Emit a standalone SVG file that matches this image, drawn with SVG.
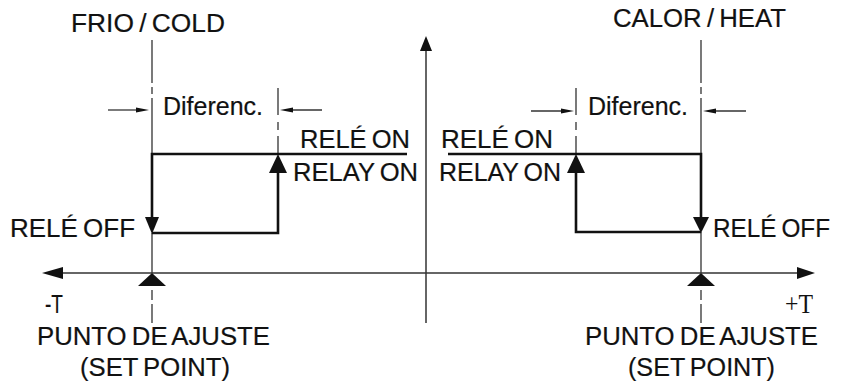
<svg xmlns="http://www.w3.org/2000/svg" width="843" height="382" viewBox="0 0 843 382">
<style>
.t{font-family:"Liberation Sans",Arial,sans-serif;font-size:26px;word-spacing:-2px;fill:#111;stroke:#111;stroke-width:0.2}
.s{font-family:"Liberation Serif","Times New Roman",serif;font-size:27px;fill:#111}
.ax{stroke:#333;stroke-width:1.5;fill:none}
.g{stroke:#333;stroke-width:1.3;fill:none}
.r{stroke:#111;stroke-width:2.6;fill:none}
.h{fill:#111;stroke:none}
</style>
<rect width="843" height="382" fill="#fff"/>
<g id="connectors">
  <line class="ax" x1="426" y1="42" x2="426" y2="323"/>
  <polygon class="h" points="426,36 420,51 432,51"/>
  <line class="ax" x1="50" y1="273" x2="806" y2="273"/>
  <polygon class="h" points="42,273 63,267 63,279"/>
  <polygon class="h" points="815,273 797,267 797,279"/>
  <path class="g" d="M152,40V83M152,87V94M152,98V154M152,233V273M152,290V300M152,304V323"/>
  <path class="g" d="M278,88V115M278,122V130M278,136V154"/>
  <path class="g" d="M701,40V83M701,87V94M701,98V154M701,232V273M701,290V300M701,304V323"/>
  <path class="g" d="M576,88V115M576,122V130M576,136V154"/>
  <line class="g" x1="108" y1="110" x2="140" y2="110"/>
  <polygon class="h" points="149,110 136,107.5 136,112.5"/>
  <line class="g" x1="322" y1="110" x2="288" y2="110"/>
  <polygon class="h" points="280,110 293,107.5 293,112.5"/>
  <line class="g" x1="531" y1="111" x2="565" y2="111"/>
  <polygon class="h" points="574,111 561,108.5 561,113.5"/>
  <line class="g" x1="746" y1="111" x2="711" y2="111"/>
  <polygon class="h" points="703,111 716,108.5 716,113.5"/>
  <path class="r" d="M407,154H152V220M152,233H278V170"/>
  <polygon class="h" points="152,234 145,217 159,217"/>
  <polygon class="h" points="278,154 269,173 287,173"/>
  <path class="r" d="M448,154H701V220M701,232H576V170"/>
  <polygon class="h" points="701,233 693,217 709,217"/>
  <polygon class="h" points="576,154 567,173 585,173"/>
  <polygon class="h" points="152,273 138,286 166,286"/>
  <polygon class="h" points="701,273 687,286 715,286"/>
</g>
<g id="cold-label"><text class="t" x="71" y="32" textLength="154" lengthAdjust="spacingAndGlyphs">FRIO / COLD</text></g>
<g id="heat-label"><text class="t" x="613" y="27" textLength="173" lengthAdjust="spacingAndGlyphs">CALOR / HEAT</text></g>
<g id="diff-cold"><text class="t" x="163" y="115" textLength="100" lengthAdjust="spacingAndGlyphs">Diferenc.</text></g>
<g id="diff-heat"><text class="t" x="588" y="115" textLength="100" lengthAdjust="spacingAndGlyphs">Diferenc.</text></g>
<g id="on-cold">
  <text class="t" x="300" y="148" textLength="110" lengthAdjust="spacingAndGlyphs">RELÉ ON</text>
  <text class="t" x="293" y="181" textLength="125" lengthAdjust="spacingAndGlyphs">RELAY ON</text>
</g>
<g id="on-heat">
  <text class="t" x="441" y="148" textLength="112" lengthAdjust="spacingAndGlyphs">RELÉ ON</text>
  <text class="t" x="439" y="181" textLength="122" lengthAdjust="spacingAndGlyphs">RELAY ON</text>
</g>
<g id="off-cold"><text class="t" x="10" y="237" textLength="125" lengthAdjust="spacingAndGlyphs">RELÉ OFF</text></g>
<g id="off-heat"><text class="t" x="713" y="237" textLength="117" lengthAdjust="spacingAndGlyphs">RELÉ OFF</text></g>
<g id="minus-t"><text class="t" x="45" y="313" textLength="18" lengthAdjust="spacingAndGlyphs">-T</text></g>
<g id="plus-t"><text class="s" x="785" y="313" textLength="28" lengthAdjust="spacingAndGlyphs">+T</text></g>
<g id="setpoint-cold">
  <text class="t" x="37" y="345" textLength="233" lengthAdjust="spacingAndGlyphs">PUNTO DE AJUSTE</text>
  <text class="t" x="80" y="376" textLength="150" lengthAdjust="spacingAndGlyphs">(SET POINT)</text>
</g>
<g id="setpoint-heat">
  <text class="t" x="585" y="345" textLength="233" lengthAdjust="spacingAndGlyphs">PUNTO DE AJUSTE</text>
  <text class="t" x="628" y="376" textLength="147" lengthAdjust="spacingAndGlyphs">(SET POINT)</text>
</g>
</svg>
